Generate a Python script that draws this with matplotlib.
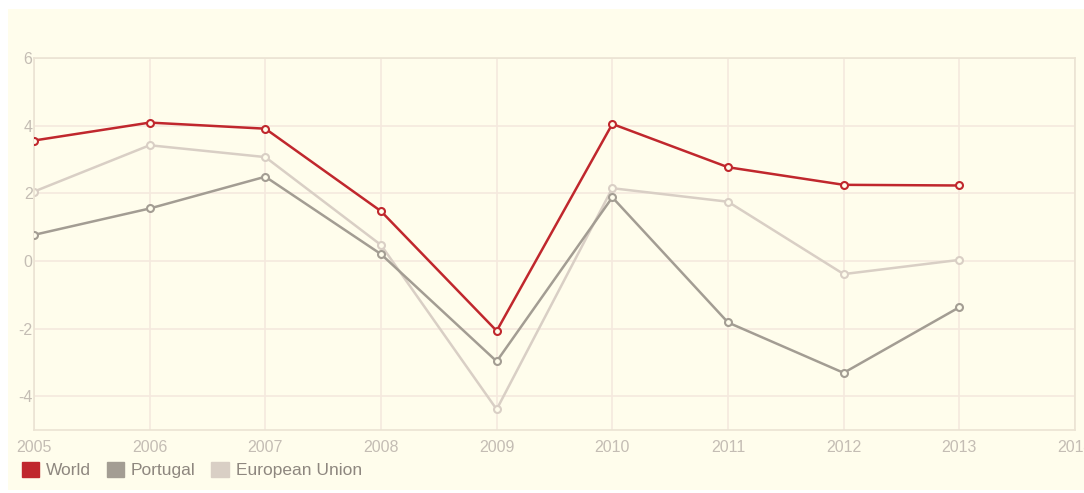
import matplotlib.pyplot as plt
from matplotlib.patches import Patch, Rectangle

years = [2005, 2006, 2007, 2008, 2009, 2010, 2011, 2012, 2013]
world = [3.56, 4.09, 3.91, 1.47, -2.07, 4.05, 2.77, 2.25, 2.23]
portugal = [0.77, 1.55, 2.49, 0.20, -2.97, 1.88, -1.82, -3.31, -1.37]
eu = [2.05, 3.42, 3.07, 0.47, -4.39, 2.15, 1.75, -0.39, 0.03]

series_names = ["World", "Portugal", "European Union"]
series_colors = ["#c0272d", "#a39d93", "#d9cfc5"]
x_ticks = list(range(2005, 2015))
y_ticks = [-4, -2, 0, 2, 4, 6]

W, H = 1084, 493
BG = "#fffdec"
GRID = "#f5e9de"
TXT = "#c4bdb4"

plt.rcParams['font.family'] = ['Liberation Sans', 'DejaVu Sans']
plt.rcParams['axes.unicode_minus'] = False

fig = plt.figure(figsize=(W / 100, H / 100), dpi=100, facecolor="white")
fig.patches.append(Rectangle((8 / W, 3 / H), 1 - 8 / W, 1 - 12 / H,
                             transform=fig.transFigure, facecolor=BG,
                             edgecolor="none", zorder=-10))

ax = fig.add_axes([34 / W, 1 - 430 / H, (1075 - 34) / W, (430 - 58) / H])
ax.set_facecolor(BG)
ax.set_xlim(2005, 2014)
ax.set_ylim(-5, 6)
ax.set_xticks(x_ticks)
ax.set_xticklabels([str(y) for y in x_ticks])
ax.set_yticks(y_ticks)
ax.grid(True, color=GRID, linewidth=1.2)
ax.set_axisbelow(True)
ax.tick_params(length=0, colors=TXT, labelsize=11.5, pad=7)
ax.tick_params(axis='y', pad=1)
for s in ax.spines.values():
    s.set_color("#ebe3d3")
    s.set_linewidth(1.2)

for vals, c, z in [(eu, series_colors[2], 2), (portugal, series_colors[1], 3), (world, series_colors[0], 4)]:
    ax.plot(years, vals, color=c, linewidth=1.8, marker='o', markersize=5,
            markerfacecolor=BG, markeredgecolor=c, markeredgewidth=1.5, zorder=z)

handles = [Patch(facecolor=c, edgecolor=c) for c in series_colors]
fig.legend(handles, series_names, loc='center left', bbox_to_anchor=(6 / W, 1 - 470 / H),
           frameon=False, ncol=3, fontsize=12.5, handlelength=1.0, handleheight=1.0,
           handletextpad=0.4, columnspacing=0.9, labelcolor="#8e877f")

fig.savefig("out.png", dpi=100, facecolor="white")
